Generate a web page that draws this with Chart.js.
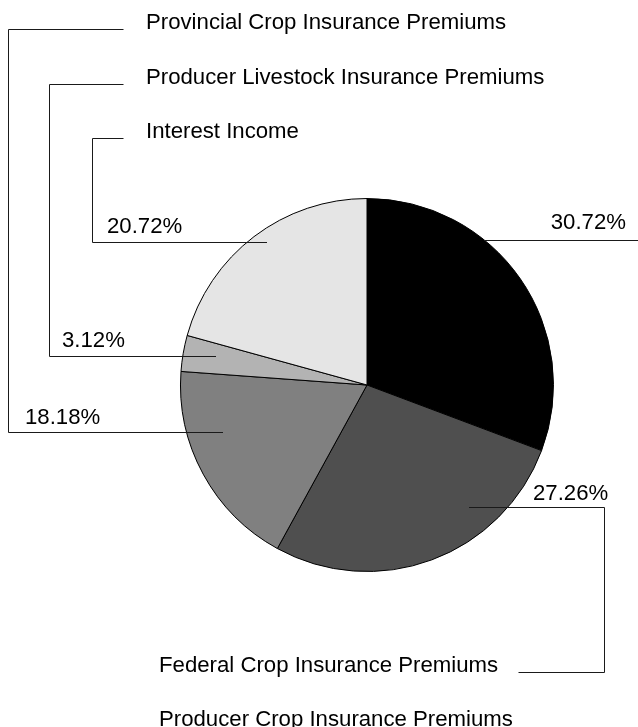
<!DOCTYPE html>
<html>
<head>
<meta charset="utf-8">
<script src="https://cdn.jsdelivr.net/npm/chart.js@4"></script>
<style>
  html, body { margin: 0; padding: 0; background: #fff; }
  #wrap { width: 638px; height: 727px; overflow: hidden; }
</style>
</head>
<body>
<div id="wrap"><canvas id="myChart" width="638" height="727"></canvas></div>
<script>
// Data (clockwise from 12 o'clock)
const categories = [
    'Producer Crop Insurance Premiums',
    'Federal Crop Insurance Premiums',
    'Provincial Crop Insurance Premiums',
    'Producer Livestock Insurance Premiums',
    'Interest Income'
];
const shares = [30.72, 27.26, 18.18, 3.12, 20.72];
const sliceColors = ['#000000', '#4f4f4f', '#808080', '#b3b3b3', '#e5e5e5'];

// Label layout: percent text, leader line path and category name position
// lineY = row of the horizontal leader, inset = how far it reaches into the slice
const labelLayout = [
    { pctX: 626, pctAlign: 'right', pctY: 229, lineY: 240, inset: 0, path: [[638, 240]], nameX: 159, nameY: 726 },
    { pctX: 533, pctAlign: 'left', pctY: 500, lineY: 507, inset: 39, path: [[604, 507], [604, 672], [518, 672]], nameX: 159, nameY: 672 },
    { pctX: 25, pctAlign: 'left', pctY: 424, lineY: 432, inset: 36, path: [[8, 432], [8, 29], [123, 29]], nameX: 146, nameY: 29 },
    { pctX: 62, pctAlign: 'left', pctY: 347, lineY: 356, inset: 33, path: [[49, 356], [49, 84], [123, 84]], nameX: 146, nameY: 84 },
    { pctX: 107, pctAlign: 'left', pctY: 233, lineY: 242, inset: 20, path: [[92, 242], [92, 138], [123, 138]], nameX: 146, nameY: 138 }
];

const labelFont = '22.2px "Liberation Sans", Arial, Helvetica, sans-serif';

// Draws leader lines and texts after the pie
const leaderLabels = {
    id: 'leaderLabels',
    afterDraw(chart) {
        const c = chart.ctx;
        const meta = chart.getDatasetMeta(0);
        c.save();
        c.font = labelFont;
        c.textBaseline = 'alphabetic';
        meta.data.forEach(function(arc, i) {
            const p = arc.getProps(['x', 'y', 'outerRadius'], true);
            const lay = labelLayout[i];
            const dy = lay.lineY - p.y;
            const half = Math.sqrt(Math.max(p.outerRadius * p.outerRadius - dy * dy, 0));
            // leader starts inside the slice, on the side where its path goes
            const goesLeft = lay.path[0][0] < p.x;
            const startX = goesLeft ? p.x - half + lay.inset : p.x + half - lay.inset;

            c.beginPath();
            c.strokeStyle = '#1a1a1a';
            c.lineWidth = 1;
            c.moveTo(Math.round(startX), lay.lineY + 0.5);
            lay.path.forEach(function(pt) {
                c.lineTo(pt[0] + 0.5, pt[1] + 0.5);
            });
            c.stroke();

            c.fillStyle = '#000';
            c.textAlign = lay.pctAlign;
            c.fillText(shares[i].toFixed(2) + '%', lay.pctX, lay.pctY);
            c.textAlign = 'left';
            c.fillText(categories[i], lay.nameX, lay.nameY);
        });
        c.restore();
    }
};

var ctx = document.getElementById('myChart');
var myChart = new Chart(ctx, {
    type: 'pie',
    data: {
        labels: categories,
        datasets: [{
            data: shares,
            backgroundColor: sliceColors,
            borderColor: '#000',
            borderWidth: 1,
            hoverOffset: 0
        }]
    },
    options: {
        responsive: false,
        animation: false,
        layout: {
            padding: { left: 180, right: 84, top: 198, bottom: 155 }
        },
        plugins: {
            legend: { display: false },
            tooltip: { enabled: false }
        }
    },
    plugins: [leaderLabels]
});
</script>
</body>
</html>
